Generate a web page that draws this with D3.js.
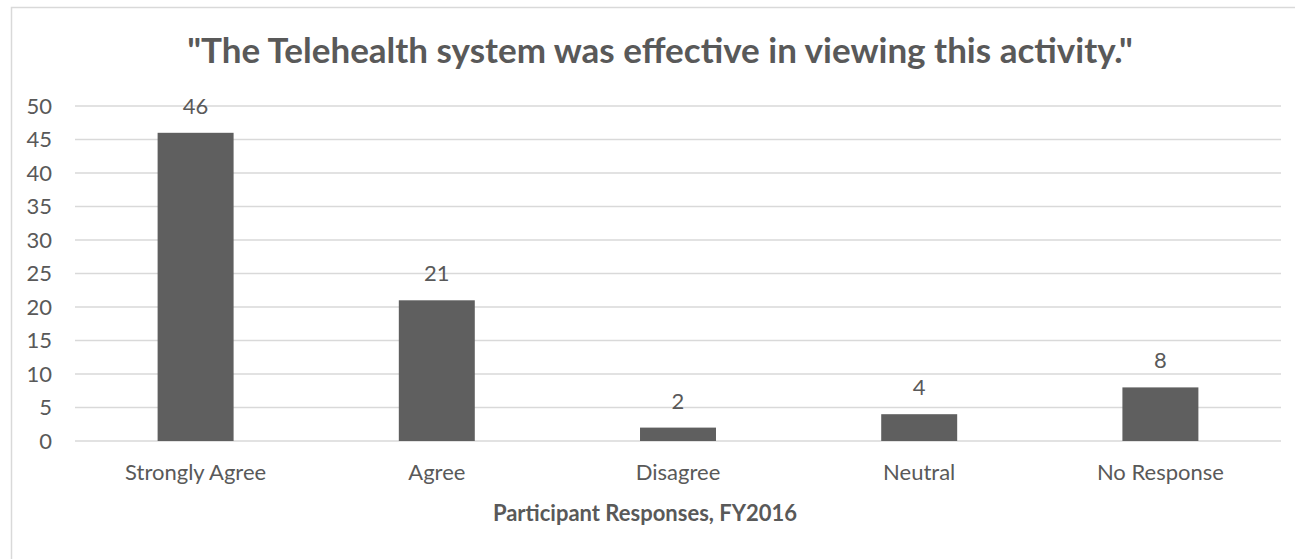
<!DOCTYPE html>
<html>
<head>
<meta charset="utf-8">
<script src="https://cdn.jsdelivr.net/npm/d3@7"></script>
<style>
  body { margin: 0; background: #fff; }
  text { font-family: Lato, "Open Sans", sans-serif; fill: #595959; }
</style>
</head>
<body>
<script>
var categories = ["Strongly Agree", "Agree", "Disagree", "Neutral", "No Response"];
var values = [46, 21, 2, 4, 8];
var yTicks = [0, 5, 10, 15, 20, 25, 30, 35, 40, 45, 50];

var width = 1295,
    height = 559,
    plotLeft = 75,
    plotRight = 1281,
    plotTop = 106,
    plotBottom = 441;

var svg = d3.select("body").append("svg")
    .attr("width", width)
    .attr("height", height);

// chart frame
svg.append("rect")
    .attr("x", 11.5)
    .attr("y", 7.5)
    .attr("width", 1290)
    .attr("height", 560)
    .attr("fill", "#fff")
    .attr("stroke", "#d9d9d9")
    .attr("stroke-width", 1.5);

var x = d3.scaleBand()
    .domain(categories)
    .range([plotLeft, plotRight])
    .paddingInner(0.685)
    .paddingOuter(0.3425);

var y = d3.scaleLinear()
    .domain([0, 50])
    .range([plotBottom, plotTop]);

// gridlines
svg.append("g")
    .selectAll("line")
    .data(yTicks)
    .enter().append("line")
    .attr("x1", plotLeft)
    .attr("x2", plotRight)
    .attr("y1", function(d) { return y(d); })
    .attr("y2", function(d) { return y(d); })
    .attr("stroke", "#d9d9d9")
    .attr("stroke-width", 1.5);

// y axis labels
var yAxis = d3.axisLeft(y).tickValues(yTicks).tickSize(0).tickPadding(0);
var gy = svg.append("g")
    .attr("transform", "translate(52,0)")
    .call(yAxis);
gy.select(".domain").remove();
gy.selectAll("text")
    .attr("font-size", 22)
    .attr("font-family", null)
    .attr("fill", "#595959");

// x axis labels
var xAxis = d3.axisBottom(x).tickSize(0).tickPadding(0);
var gx = svg.append("g")
    .attr("transform", "translate(0," + plotBottom + ")")
    .call(xAxis);
gx.select(".domain").remove();
gx.selectAll("text")
    .attr("font-size", 22)
    .attr("font-family", null)
    .attr("fill", "#595959")
    .attr("dy", null)
    .attr("y", 39);

// bars
svg.selectAll("rect.bar")
    .data(values)
    .enter().append("rect")
    .attr("class", "bar")
    .attr("x", function(d, i) { return x(categories[i]); })
    .attr("width", x.bandwidth())
    .attr("y", function(d) { return y(d); })
    .attr("height", function(d) { return y(0) - y(d); })
    .attr("fill", "#5f5f5f");

// value labels
svg.selectAll("text.val")
    .data(values)
    .enter().append("text")
    .attr("class", "val")
    .attr("x", function(d, i) { return x(categories[i]) + x.bandwidth() / 2; })
    .attr("y", function(d) { return y(d) - 19; })
    .attr("text-anchor", "middle")
    .attr("font-size", 22)
    .text(function(d) { return d; });

// title
svg.append("text")
    .attr("x", 660)
    .attr("y", 63)
    .attr("text-anchor", "middle")
    .attr("font-size", 35)
    .attr("font-weight", "bold")
    .text("\"The Telehealth system was effective in viewing this activity.\"");

// x axis title
svg.append("text")
    .attr("x", 645)
    .attr("y", 521)
    .attr("text-anchor", "middle")
    .attr("font-size", 22)
    .attr("font-weight", "bold")
    .text("Participant Responses, FY2016");
</script>
</body>
</html>
